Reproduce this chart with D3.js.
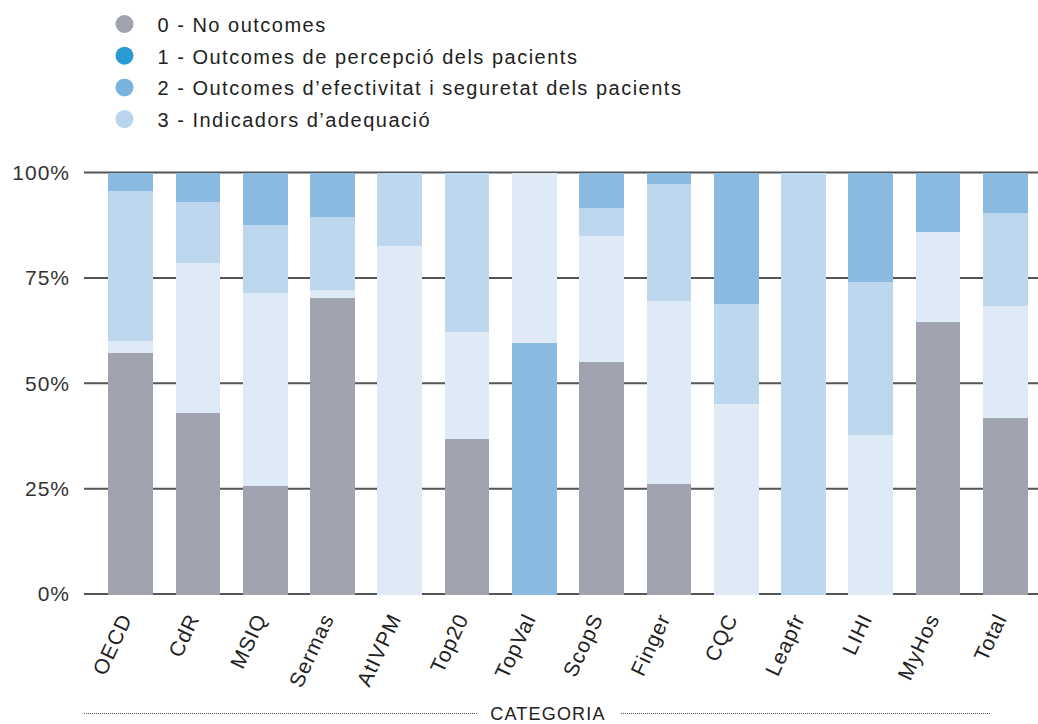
<!DOCTYPE html>
<html>
<head>
<meta charset="utf-8">
<script src="https://cdn.jsdelivr.net/npm/d3@7"></script>
<style>
  html, body { margin: 0; padding: 0; background: #fff; }
  svg { display: block; font-family: "Liberation Sans", Arial, sans-serif; }
</style>
</head>
<body>
<svg id="chart" width="1038" height="724"></svg>
<script>
// Categories (one bar each)
const categories = ["OECD", "CdR", "MSIQ", "Sermas", "AtIVPM", "Top20", "TopVal",
                    "ScopS", "Finger", "CQC", "Leapfr", "LIHI", "MyHos", "Total"];

// Share of indicators (%) per category and outcome type
const noOutcomes  = [57.2, 42.9, 25.6, 70.3,  0.0, 36.8,  0.0, 55.0, 26.1,  0.0,   0.0,  0.0, 64.5, 41.8];
const percepcio   = [ 4.4,  7.1, 12.5, 10.6,  0.0,  0.0, 59.5,  8.4,  2.7, 31.2,   0.0, 26.0, 14.1,  9.6];
const efectivitat = [35.6, 14.3, 16.1, 17.2, 17.4, 37.8,  0.0,  6.7, 27.8, 23.7, 100.0, 36.3,  0.0, 22.1];
const adequacio   = [ 2.8, 35.7, 45.8,  1.9, 82.6, 25.4, 40.5, 29.9, 43.4, 45.1,   0.0, 37.7, 21.4, 26.5];

// Y axis ticks
const yTicks = [0, 25, 50, 75, 100];

// Legend entries
const legendLabels = [
  "0 - No outcomes",
  "1 - Outcomes de percepció dels pacients",
  "2 - Outcomes d\u2019efectivitat i seguretat dels pacients",
  "3 - Indicadors d\u2019adequació"
];
const legendColors = ["#a0a3ae", "#2b9ad3", "#78b3dd", "#b9d5ee"];

// Series as drawn in the bars
const series = [
  { key: "noOutcomes",  values: noOutcomes,  fill: "#a1a4b0" },
  { key: "percepcio",   values: percepcio,   fill: "#8abae0" },
  { key: "efectivitat", values: efectivitat, fill: "#bdd7ee" },
  { key: "adequacio",   values: adequacio,   fill: "#deeaf6" }
];
// Pile order bottom-to-top within each bar (series indices)
const defaultPile = [0, 3, 2, 1];
const pileOverrides = { "TopVal": [1, 3, 2, 0] };

const svg = d3.select("#chart");

const x = d3.scaleBand()
  .domain(categories)
  .range([97, 1039])
  .paddingInner(0.335)
  .paddingOuter(0.1675);

const y = d3.scaleLinear().domain([0, 100]).range([594, 172.5]);

// Gridlines
svg.append("g")
  .selectAll("line")
  .data(yTicks)
  .join("line")
  .attr("x1", 84).attr("x2", 1038)
  .attr("y1", d => y(d)).attr("y2", d => y(d))
  .attr("stroke", "#555").attr("stroke-width", 2);

// Y tick labels
svg.append("g")
  .selectAll("text")
  .data(yTicks)
  .join("text")
  .attr("x", 70)
  .attr("y", d => y(d))
  .attr("dy", "0.35em")
  .attr("text-anchor", "end")
  .attr("font-size", 21)
  .attr("letter-spacing", 1)
  .attr("fill", "#333")
  .text(d => d + "%");

// Build stacked segments per bar
const segments = [];
categories.forEach((cat, i) => {
  const order = pileOverrides[cat] || defaultPile;
  let acc = 0;
  order.forEach(si => {
    const v = series[si].values[i];
    if (v > 0) {
      segments.push({ cat, y0: acc, y1: acc + v, fill: series[si].fill });
    }
    acc += v;
  });
});

svg.append("g")
  .selectAll("rect")
  .data(segments)
  .join("rect")
  .attr("x", d => x(d.cat))
  .attr("width", x.bandwidth())
  .attr("y", d => y(d.y1))
  .attr("height", d => y(d.y0) - y(d.y1) + (d.y0 === 0 ? 1 : 0))
  .attr("fill", d => d.fill)
  .attr("shape-rendering", "crispEdges");

// X tick labels
svg.append("g")
  .selectAll("text")
  .data(categories)
  .join("text")
  .attr("transform", d => `translate(${x(d) + x.bandwidth() / 2 + 2},618) rotate(-65)`)
  .attr("text-anchor", "end")
  .attr("font-size", 21)
  .attr("letter-spacing", 1)
  .attr("fill", "#222")
  .text(d => d);

// X axis title with dotted rules
const titleG = svg.append("g");
titleG.append("line")
  .attr("x1", 84).attr("x2", 478).attr("y1", 713.5).attr("y2", 713.5)
  .attr("stroke", "#555").attr("stroke-width", 1).attr("stroke-dasharray", "1,1");
titleG.append("line")
  .attr("x1", 621).attr("x2", 990).attr("y1", 713.5).attr("y2", 713.5)
  .attr("stroke", "#555").attr("stroke-width", 1).attr("stroke-dasharray", "1,1");
titleG.append("text")
  .attr("x", 548).attr("y", 720)
  .attr("text-anchor", "middle")
  .attr("font-size", 18)
  .attr("letter-spacing", 1.2)
  .attr("fill", "#222")
  .text("CATEGORIA");

// Legend
const legend = svg.append("g")
  .selectAll("g")
  .data(legendLabels)
  .join("g")
  .attr("transform", (d, i) => `translate(124.5,${24 + i * 31.7})`);
legend.append("circle")
  .attr("r", 9)
  .attr("fill", (d, i) => legendColors[i]);
legend.append("text")
  .attr("x", 33)
  .attr("y", 1)
  .attr("dy", "0.35em")
  .attr("font-size", 20)
  .attr("letter-spacing", 1.5)
  .attr("fill", "#222")
  .text(d => d);
</script>
</body>
</html>
